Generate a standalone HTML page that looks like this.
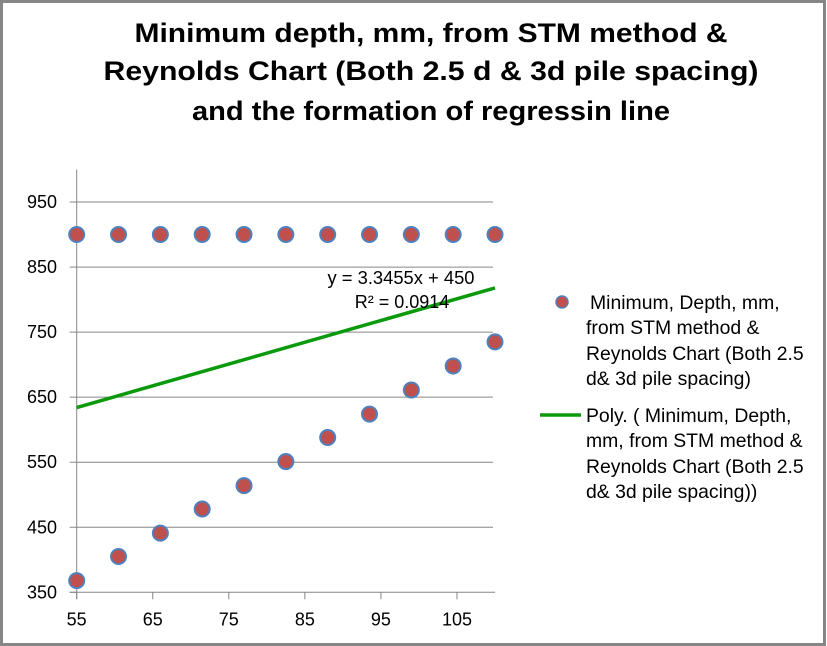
<!DOCTYPE html>
<html><head><meta charset="utf-8"><style>
html,body{margin:0;padding:0;background:#fff}
svg{display:block;font-family:"Liberation Sans",sans-serif}
</style></head><body>
<svg id="chart" width="827" height="646" viewBox="0 0 827 646">
<rect x="1.5" y="1.5" width="823" height="643" fill="#fff" stroke="#868686" stroke-width="3"/>
<g font-weight="bold" font-size="27" text-anchor="middle" fill="#000">
<text x="431" y="42" textLength="593" lengthAdjust="spacingAndGlyphs">Minimum depth, mm, from STM method &amp;</text>
<text x="431" y="80" textLength="655" lengthAdjust="spacingAndGlyphs">Reynolds Chart (Both 2.5 d &amp; 3d pile spacing)</text>
<text x="431" y="120" textLength="478" lengthAdjust="spacingAndGlyphs">and the formation of regressin line</text>
</g>
<g id="grid"></g>
<g id="axes"></g>
<g id="trend"></g>
<g id="pts"></g>
<g font-size="18" text-anchor="middle">
<text x="401" y="284" textLength="147" lengthAdjust="spacingAndGlyphs">y = 3.3455x + 450</text>
<text x="402" y="308">R² = 0.0914</text>
</g>
<g font-size="19.4" fill="#000">
<g>
<circle cx="562" cy="302" r="6" fill="#c0504d" stroke="#4f81bd" stroke-width="1.5"/>
<text x="590" y="309">Minimum, Depth, mm,</text>
<text x="586" y="334">from STM method &amp;</text>
<text x="586" y="360">Reynolds Chart (Both 2.5</text>
<text x="586" y="385">d&amp; 3d pile spacing)</text>
</g>
<g>
<line x1="540" y1="415" x2="581" y2="415" stroke="#0b9a0b" stroke-width="3.5"/>
<text x="586" y="422">Poly. ( Minimum, Depth,</text>
<text x="586" y="447">mm, from STM method &amp;</text>
<text x="586" y="473">Reynolds Chart (Both 2.5</text>
<text x="586" y="498">d&amp; 3d pile spacing))</text>
</g>
</g>
</svg>
<script>
const xs = [55, 60.5, 66, 71.5, 77, 82.5, 88, 93.5, 99, 104.5, 110];
const upperSeries = [900, 900, 900, 900, 900, 900, 900, 900, 900, 900, 900];
const lowerSeries = [368, 405, 441, 478, 514, 551, 588, 624, 661, 698, 735];
const xTicks = [55, 65, 75, 85, 95, 105];
const yTicks = [350, 450, 550, 650, 750, 850, 950];
const trendCoef = [3.3455, 450];

const X0=76.7, X1=495, XMIN=55, XMAX=110;
const Y0=592.3, YT=169.5, YMIN=350, YMAX=1000;
const sx=v=>X0+(v-XMIN)/(XMAX-XMIN)*(X1-X0);
const sy=v=>Y0-(v-YMIN)/(YMAX-YMIN)*(Y0-YT);
const NS='http://www.w3.org/2000/svg';
function mk(tag,attrs,parent){const e=document.createElementNS(NS,tag);for(const k in attrs)e.setAttribute(k,attrs[k]);parent.appendChild(e);return e;}
const grid=document.getElementById('grid'),axes=document.getElementById('axes'),trend=document.getElementById('trend'),pts=document.getElementById('pts');

yTicks.forEach(v=>{
  if(v>YMIN){const g=mk('line',{x1:X0,x2:X1-2,y1:sy(v),y2:sy(v),stroke:'#868686','stroke-width':1},grid);
  
  }
  const t=mk('line',{x1:X0-7,x2:X0,y1:sy(v),y2:sy(v),stroke:'#868686','stroke-width':1},axes);
  
  
  const l=mk('text',{x:57,y:sy(v)+6,'text-anchor':'end','font-size':18},axes);
  l.textContent=v;
  
  
});
xTicks.forEach(v=>{
  const t=mk('line',{x1:sx(v),x2:sx(v),y1:Y0,y2:Y0+7,stroke:'#868686','stroke-width':1},axes);
  
  
  const l=mk('text',{x:sx(v),y:Y0+33,'text-anchor':'middle','font-size':18},axes);
  l.textContent=v;
  
  
});
const ya=mk('line',{x1:X0,x2:X0,y1:YT,y2:Y0+7,stroke:'#868686','stroke-width':1},axes);


const xa=mk('line',{x1:X0-7,x2:X1,y1:Y0,y2:Y0,stroke:'#868686','stroke-width':1},axes);



const tl=mk('line',{x1:sx(XMIN),y1:sy(trendCoef[0]*XMIN+trendCoef[1]),x2:sx(XMAX),y2:sy(trendCoef[0]*XMAX+trendCoef[1]),stroke:'#0b9a0b','stroke-width':3.5},trend);



[upperSeries,lowerSeries].forEach(s=>{
  s.forEach((v,i)=>{
    const c=mk('circle',{cx:sx(xs[i]),cy:sy(v),r:7.5,fill:'#c0504d',stroke:'#4f81bd','stroke-width':2},pts);
    
    
  });
});
</script>
</body></html>
